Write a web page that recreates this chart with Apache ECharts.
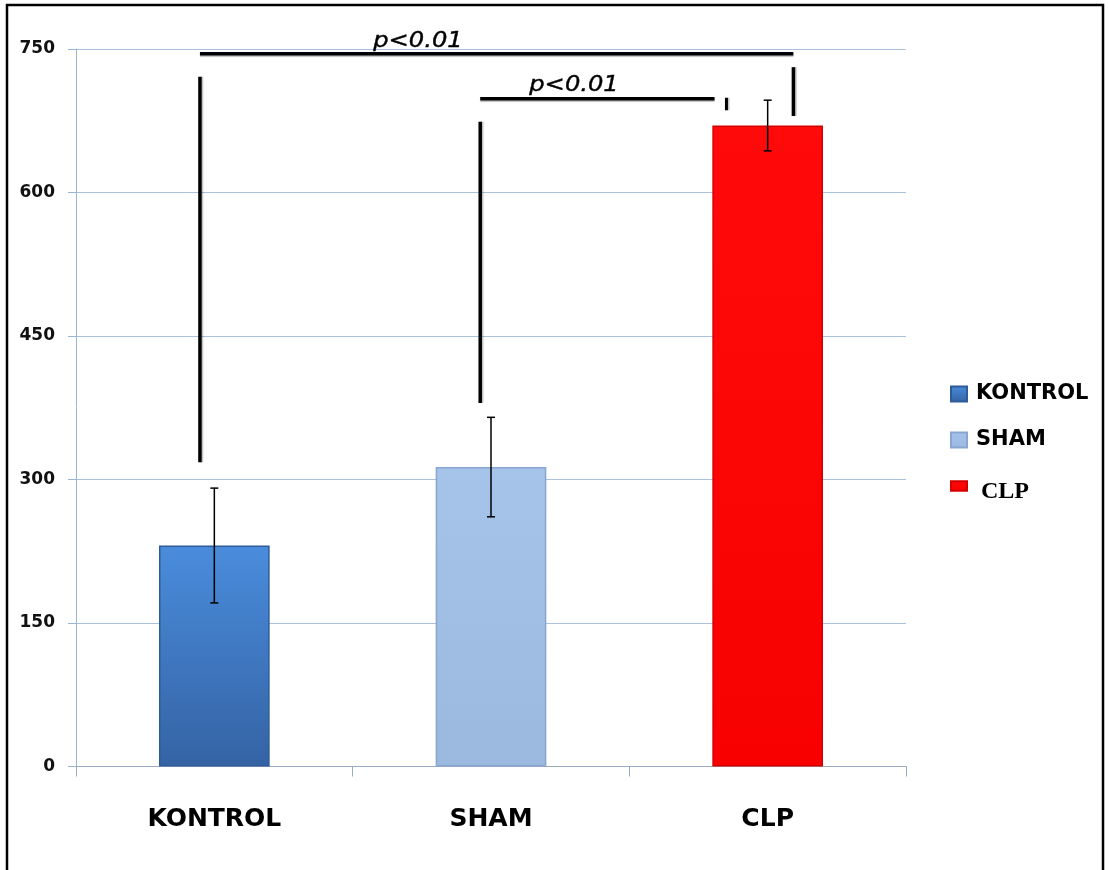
<!DOCTYPE html>
<html>
<head>
<meta charset="utf-8">
<script src="https://cdn.jsdelivr.net/npm/echarts@6/dist/echarts.min.js"></script>
<style>
html,body{margin:0;padding:0;background:#fff;}
#c{width:1109px;height:870px;}
</style>
</head>
<body>
<div id="c"></div>
<script>
// ---- data ----
const categories = ['KONTROL', 'SHAM', 'CLP'];
const means = [231, 313, 670];
const errors = [60, 52, 26.5];
const yTicks = [0, 150, 300, 450, 600, 750];
// significance brackets (values in axis units)
const sigLevels = [745, 698];
const sigTexts = ['p<0.01', 'p<0.01'];
const sigDropCats = [0, 2, 1, 2];
const sigDropRanges = [[318, 721], [680, 731], [380, 674], [686, 699]];

// ---- layout / style (not data) ----
const spanLayout = [[0, -0.052, 2, 0.093], [1, -0.039, 2, -0.192]];
const textLayout = [[1, -0.264], [1, 0.30]];
const dropOffsets = [-0.052, 0.093, -0.039, -0.149];
const dropWidths = [3.5, 3.5, 3.5, 3];

const barColors = [
  {type:'linear',x:0,y:0,x2:0,y2:1,colorStops:[{offset:0,color:'#4a8cdc'},{offset:1,color:'#3463a4'}]},
  {type:'linear',x:0,y:0,x2:0,y2:1,colorStops:[{offset:0,color:'#a6c3e9'},{offset:1,color:'#9bb8df'}]},
  {type:'linear',x:0,y:0,x2:0,y2:1,colorStops:[{offset:0,color:'#ff0a0a'},{offset:1,color:'#f80000'}]}
];
const barBorders = ['#2f5c98', '#88a6cf', '#d40000'];

const chart = echarts.init(document.getElementById('c'), null, {renderer:'canvas'});

const barSeries = categories.map((name, i) => ({
  name: name,
  type: 'bar',
  barWidth: '40%',
  barGap: '-100%',
  data: categories.map((c, j) => j === i ? means[i] : '-'),
  itemStyle: {color: barColors[i], borderColor: barBorders[i], borderWidth: 1.5},
  z: 2
}));

const errorSeries = {
  type: 'custom',
  name: 'err',
  z: 5,
  data: means.map((m, i) => [i, m - errors[i], m + errors[i]]),
  renderItem: function (params, api) {
    const lo = api.coord([api.value(0), api.value(1)]);
    const hi = api.coord([api.value(0), api.value(2)]);
    const w = 4;
    const st = {stroke: '#000', lineWidth: 1.5};
    return {type: 'group', children: [
      {type:'line', shape:{x1:lo[0],y1:lo[1],x2:hi[0],y2:hi[1]}, style:st},
      {type:'line', shape:{x1:lo[0]-w,y1:lo[1],x2:lo[0]+w,y2:lo[1]}, style:st},
      {type:'line', shape:{x1:hi[0]-w,y1:hi[1],x2:hi[0]+w,y2:hi[1]}, style:st}
    ]};
  }
};

const spanSeries = {
  type: 'custom',
  name: 'span',
  z: 6,
  data: sigLevels.map((v, i) => [i, v]),
  renderItem: function (params, api) {
    const i = api.value(0);
    const v = api.value(1);
    const band = api.size([1, 0])[0];
    const L = spanLayout[i];
    const a = api.coord([L[0], v]);
    const b = api.coord([L[2], v]);
    const x1 = a[0] + L[1] * band;
    const x2 = b[0] + L[3] * band;
    const T = textLayout[i];
    const tc = api.coord([T[0], v]);
    return {type: 'group', children: [
      {type:'line', shape:{x1:x1,y1:a[1],x2:x2,y2:a[1]}, style:{stroke:'#000', lineWidth:3.5, shadowColor:'rgba(0,0,0,0.25)', shadowOffsetY:1.5, shadowBlur:1}},
      {type:'text', x: tc[0] + T[1] * band, y: a[1] - 2, scaleX: 1.1,
        style:{text: sigTexts[i], fontFamily:'DejaVu Sans', fontStyle:'italic', fontSize:22, fill:'#000', align:'center', verticalAlign:'bottom', stroke:'#000', lineWidth:0.4}}
    ]};
  }
};

const dropSeries = {
  type: 'custom',
  name: 'drop',
  z: 6,
  data: sigDropRanges.map((r, i) => [sigDropCats[i], r[0], r[1], i]),
  renderItem: function (params, api) {
    const band = api.size([1, 0])[0];
    const k = api.value(3);
    const lo = api.coord([api.value(0), api.value(1)]);
    const hi = api.coord([api.value(0), api.value(2)]);
    const x = lo[0] + dropOffsets[k] * band;
    return {type:'line', shape:{x1:x,y1:lo[1],x2:x,y2:hi[1]}, style:{stroke:'#000', lineWidth:dropWidths[k], shadowColor:'rgba(0,0,0,0.25)', shadowOffsetX:1.5, shadowBlur:1}};
  }
};

const legendRich = {
  s: {fontFamily:'DejaVu Sans', fontWeight:'bold', fontSize:21, color:'#000', padding:[0,0,0,4]},
  t: {fontFamily:'Liberation Serif', fontWeight:'bold', fontSize:24, color:'#000', padding:[12,0,0,9]}
};

chart.setOption({
  animation: false,
  backgroundColor: '#fff',
  grid: {left: 76, right: 203, top: 49, bottom: 103.5, containLabel: false},
  legend: {
    orient: 'vertical',
    left: 945,
    top: 376,
    itemWidth: 16,
    itemHeight: 15,
    itemGap: 20,
    icon: 'rect',
    data: [
      {name: categories[0]},
      {name: categories[1]},
      {name: categories[2], icon: 'path://M0,0H17V10H0Z'}
    ],
    formatter: function (n) { return n === 'CLP' ? '{t|' + n + '}' : '{s|' + n + '}'; },
    textStyle: {rich: legendRich, lineHeight: 26}
  },
  xAxis: {
    type: 'category',
    data: categories,
    axisLine: {lineStyle: {color: '#9aaac2', width: 1}},
    axisTick: {show: true, length: 10, lineStyle: {color: '#9aaac2'}},
    axisLabel: {fontFamily: 'DejaVu Sans', fontWeight: 'bold', fontSize: 25, color: '#000', margin: 40}
  },
  yAxis: {
    type: 'value',
    min: yTicks[0],
    max: yTicks[yTicks.length - 1],
    interval: 150,
    axisLine: {show: true, lineStyle: {color: '#9bb5d6', width: 1}},
    axisTick: {show: true, length: 8, lineStyle: {color: '#9bb5d6'}},
    splitLine: {lineStyle: {color: '#a9c0de', width: 1}},
    axisLabel: {fontFamily: 'DejaVu Sans', fontWeight: 'bold', fontSize: 17, color: '#111', margin: 21}
  },
  graphic: [
    {type: 'rect', shape: {x: 7, y: 5, width: 1096, height: 880}, style: {fill: 'none', stroke: '#000', lineWidth: 2.5}, silent: true}
  ],
  series: barSeries.concat([errorSeries, spanSeries, dropSeries])
});
</script>
</body>
</html>
